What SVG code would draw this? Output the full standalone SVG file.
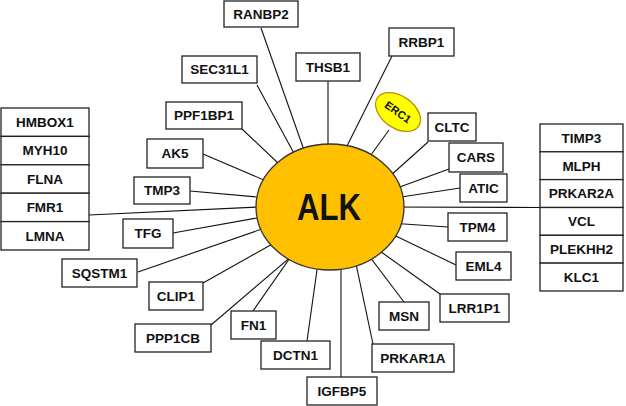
<svg xmlns="http://www.w3.org/2000/svg" width="626" height="406" viewBox="0 0 626 406">
<style>
.b{fill:#fff;stroke:#222;stroke-width:1.3}
.t{font-family:"Liberation Sans",Arial,sans-serif;font-weight:bold;font-size:13.5px;fill:#111;text-anchor:middle}
.c line{stroke:#111;stroke-width:1.1}
</style>
<rect width="626" height="406" fill="#fff"/>
<g id="connectors" class="c">
<line x1="261" y1="28" x2="311" y2="170"/>
<line x1="257" y1="85" x2="303" y2="170"/>
<line x1="328" y1="81" x2="328" y2="170"/>
<line x1="392" y1="56" x2="335" y2="170"/>
<line x1="389" y1="130" x2="360" y2="170"/>
<line x1="242" y1="129" x2="297" y2="181"/>
<line x1="203" y1="154" x2="285" y2="189"/>
<line x1="190" y1="191" x2="285" y2="199.5"/>
<line x1="89" y1="215" x2="285" y2="205.7"/>
<line x1="173" y1="233" x2="285" y2="213"/>
<line x1="138" y1="272" x2="285" y2="221"/>
<line x1="203" y1="283" x2="290" y2="234"/>
<line x1="211" y1="325" x2="300" y2="249"/>
<line x1="253" y1="311" x2="299" y2="245"/>
<line x1="307" y1="341" x2="320.5" y2="245"/>
<line x1="341" y1="377" x2="341" y2="245"/>
<line x1="373" y1="344" x2="352" y2="245"/>
<line x1="404" y1="302" x2="357" y2="240"/>
<line x1="440" y1="294" x2="370" y2="244"/>
<line x1="456" y1="265" x2="375" y2="226"/>
<line x1="448" y1="227" x2="375" y2="222"/>
<line x1="540" y1="207.5" x2="380" y2="207"/>
<line x1="460" y1="188" x2="375" y2="201"/>
<line x1="449" y1="169" x2="375" y2="196"/>
<line x1="428" y1="142" x2="380" y2="185"/>
</g>
<g id="ALK"><ellipse cx="330" cy="207" rx="74" ry="63" fill="#FFC000" stroke="#333" stroke-width="1.3"/><text x="329" y="220" font-family="'Liberation Sans',Arial,sans-serif" font-weight="bold" font-size="37" text-anchor="middle" fill="#111" textLength="64" lengthAdjust="spacingAndGlyphs">ALK</text></g>
<g id="ERC1" transform="translate(398,112) rotate(35)"><ellipse cx="0" cy="0" rx="25" ry="16" fill="#FFFF00" stroke="#BF9000" stroke-width="1.3"/><text class="t" x="0" y="4" style="font-size:11px">ERC1</text></g>
<g id="RANBP2"><rect class="b" x="224" y="1" width="74" height="26"/><text class="t" x="261" y="18.8">RANBP2</text></g>
<g id="SEC31L1"><rect class="b" x="182" y="56" width="75" height="27"/><text class="t" x="219.5" y="74.3">SEC31L1</text></g>
<g id="THSB1"><rect class="b" x="296" y="53" width="64" height="28"/><text class="t" x="328" y="71.8">THSB1</text></g>
<g id="RRBP1"><rect class="b" x="389" y="28" width="65" height="28"/><text class="t" x="421.5" y="46.8">RRBP1</text></g>
<g id="PPF1BP1"><rect class="b" x="166" y="102" width="76" height="27"/><text class="t" x="204" y="120.3">PPF1BP1</text></g>
<g id="AK5"><rect class="b" x="147" y="139" width="56" height="29"/><text class="t" x="175" y="158.3">AK5</text></g>
<g id="TMP3"><rect class="b" x="134" y="177" width="56" height="27"/><text class="t" x="162" y="195.3">TMP3</text></g>
<g id="TFG"><rect class="b" x="123" y="219" width="50" height="29"/><text class="t" x="148" y="238.3">TFG</text></g>
<g id="SQSTM1"><rect class="b" x="62" y="259" width="75" height="28"/><text class="t" x="99.5" y="277.8">SQSTM1</text></g>
<g id="CLIP1"><rect class="b" x="149" y="282" width="54" height="28"/><text class="t" x="176" y="300.8">CLIP1</text></g>
<g id="PPP1CB"><rect class="b" x="135" y="324" width="76" height="28"/><text class="t" x="173" y="342.8">PPP1CB</text></g>
<g id="FN1"><rect class="b" x="231" y="311" width="45" height="28"/><text class="t" x="253.5" y="329.8">FN1</text></g>
<g id="DCTN1"><rect class="b" x="261" y="341" width="69" height="28"/><text class="t" x="295.5" y="359.8">DCTN1</text></g>
<g id="IGFBP5"><rect class="b" x="307" y="377" width="70" height="28"/><text class="t" x="342" y="395.8">IGFBP5</text></g>
<g id="PRKAR1A"><rect class="b" x="372" y="344" width="82" height="28"/><text class="t" x="413" y="362.8">PRKAR1A</text></g>
<g id="MSN"><rect class="b" x="379" y="302" width="50" height="28"/><text class="t" x="404" y="320.8">MSN</text></g>
<g id="LRR1P1"><rect class="b" x="440" y="294" width="69" height="28"/><text class="t" x="474.5" y="312.8">LRR1P1</text></g>
<g id="EML4"><rect class="b" x="456" y="252" width="55" height="28"/><text class="t" x="483.5" y="270.8">EML4</text></g>
<g id="TPM4"><rect class="b" x="448" y="213" width="59" height="28"/><text class="t" x="477.5" y="231.8">TPM4</text></g>
<g id="ATIC"><rect class="b" x="460" y="174" width="47" height="28"/><text class="t" x="483.5" y="192.8">ATIC</text></g>
<g id="CARS"><rect class="b" x="449" y="143" width="54" height="29"/><text class="t" x="476" y="162.3">CARS</text></g>
<g id="CLTC"><rect class="b" x="428" y="113" width="48" height="28"/><text class="t" x="452" y="131.8">CLTC</text></g>
<g id="left-column">
<rect class="b" x="1" y="108" width="88" height="28.4"/><text class="t" x="45" y="127">HMBOX1</text>
<rect class="b" x="1" y="136.4" width="88" height="28.4"/><text class="t" x="45" y="155.4">MYH10</text>
<rect class="b" x="1" y="164.8" width="88" height="28.4"/><text class="t" x="45" y="183.8">FLNA</text>
<rect class="b" x="1" y="193.2" width="88" height="28.4"/><text class="t" x="45" y="212.2">FMR1</text>
<rect class="b" x="1" y="221.6" width="88" height="28.4"/><text class="t" x="45" y="240.6">LMNA</text>
</g>
<g id="right-column">
<rect class="b" x="540" y="124" width="83" height="27.8"/><text class="t" x="581.5" y="142.7">TIMP3</text>
<rect class="b" x="540" y="151.8" width="83" height="27.8"/><text class="t" x="581.5" y="170.5">MLPH</text>
<rect class="b" x="540" y="179.6" width="83" height="27.9"/><text class="t" x="581.5" y="198.3">PRKAR2A</text>
<rect class="b" x="540" y="207.5" width="83" height="27.8"/><text class="t" x="581.5" y="226.2">VCL</text>
<rect class="b" x="540" y="235.3" width="83" height="27.8"/><text class="t" x="581.5" y="254">PLEKHH2</text>
<rect class="b" x="540" y="263.1" width="83" height="27.9"/><text class="t" x="581.5" y="281.8">KLC1</text>
</g>
</svg>
